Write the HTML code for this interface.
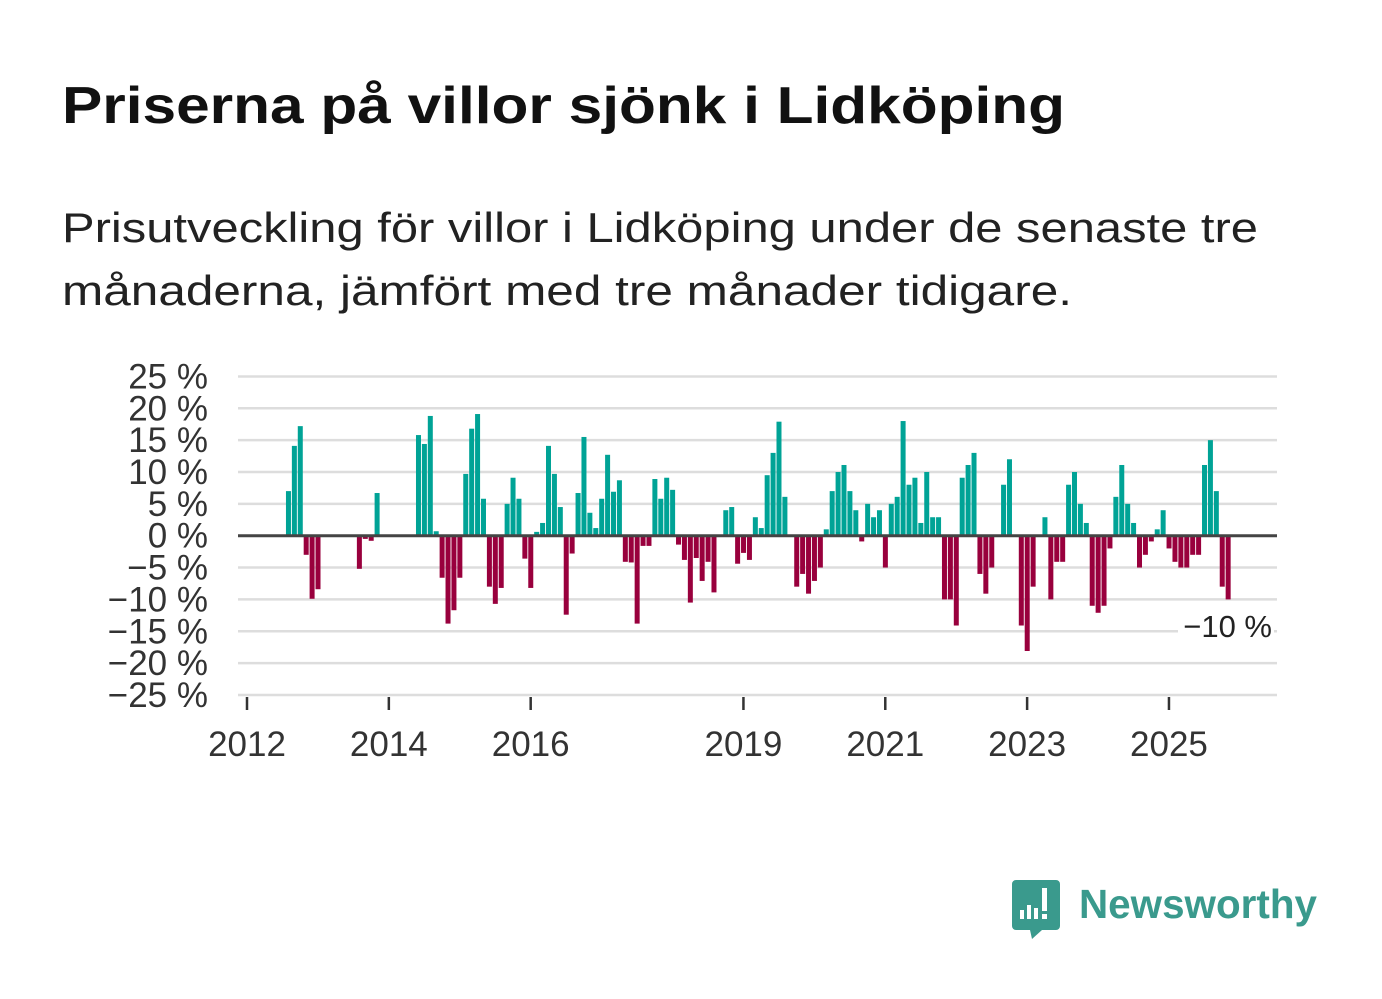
<!DOCTYPE html>
<html><head><meta charset="utf-8"><style>
html,body{margin:0;padding:0;background:#fff;}
svg{display:block;font-family:"Liberation Sans","DejaVu Sans",sans-serif;}
</style></head><body>
<svg id="chart" width="1382" height="999" viewBox="0 0 1382 999">
<text x="62" y="123" font-size="52" font-weight="bold" fill="#111" textLength="1003" lengthAdjust="spacingAndGlyphs">Priserna på villor sjönk i Lidköping</text>
<text x="62" y="242" font-size="42" fill="#222" textLength="1196" lengthAdjust="spacingAndGlyphs">Prisutveckling för villor i Lidköping under de senaste tre</text>
<text x="62" y="305" font-size="42" fill="#222" textLength="1010" lengthAdjust="spacingAndGlyphs">månaderna, jämfört med tre månader tidigare.</text>
<g id="grid"></g>
<g id="bars"></g>
<line x1="238" x2="1277" y1="535.7" y2="535.7" stroke="#444" stroke-width="3"/>
<g id="yaxis"></g>
<g id="xaxis"></g>
<rect x="1178" y="610" width="96" height="34" fill="#fff"/>
<text x="1272" y="637" font-size="31" fill="#222" text-anchor="end">−10 %</text>
<g>
<path d="M1016 880 h40 a4 4 0 0 1 4 4 v42 a4 4 0 0 1 -4 4 h-14 l-10 9 l-2 -9 h-14 a4 4 0 0 1 -4 -4 v-42 a4 4 0 0 1 4 -4z" fill="#3a9a8d"/>
<rect x="1020" y="910" width="4" height="9" fill="#fff"/><rect x="1027" y="905" width="4" height="14" fill="#fff"/><rect x="1034" y="908" width="4" height="11" fill="#fff"/><rect x="1042" y="888" width="5" height="23" fill="#fff"/><rect x="1042" y="914" width="5" height="5" fill="#fff"/>
<text x="1079" y="918" font-size="41" font-weight="bold" fill="#3a9a8d" textLength="238" lengthAdjust="spacingAndGlyphs">Newsworthy</text>
</g>
</svg>
<script>
const months = [6,7,8,9,10,11,18,19,20,21,28,29,30,31,32,33,34,35,36,37,38,39,40,41,42,43,44,45,46,47,48,49,50,51,52,53,54,55,56,57,58,59,60,61,62,63,64,65,66,67,68,69,70,71,72,73,74,75,76,77,78,80,81,82,83,84,85,86,87,88,89,90,92,93,94,95,96,97,98,99,100,101,102,103,104,105,106,107,108,109,110,111,112,113,114,115,116,117,118,119,120,121,122,123,124,125,127,128,130,131,132,134,135,136,137,138,139,140,141,142,143,144,145,146,147,148,149,150,151,152,153,154,155,156,157,158,159,160,161,162,163,164,165];
const values = [7,14.1,17.2,-3,-9.9,-8.4,-5.2,-0.5,-0.8,6.7,15.8,14.4,18.8,0.7,-6.6,-13.8,-11.7,-6.6,9.7,16.8,19.1,5.8,-8,-10.7,-8.2,5,9.1,5.8,-3.6,-8.2,0.6,2,14.1,9.7,4.5,-12.4,-2.8,6.7,15.5,3.6,1.2,5.8,12.7,6.9,8.7,-4.1,-4.2,-13.8,-1.6,-1.6,8.9,5.8,9.1,7.2,-1.4,-3.8,-10.5,-3.5,-7.1,-4.1,-8.9,4,4.5,-4.4,-2.7,-3.8,2.9,1.2,9.5,13,17.9,6.1,-8,-6,-9.1,-7.1,-5,1,7,10,11.1,7,4,-0.9,5,2.9,4,-5,5,6.1,18,8,9.1,2,10,2.9,2.9,-10,-10,-14.1,9.1,11.1,13,-6,-9.1,-5,8,12,-14.1,-18.1,-8,2.9,-10,-4.1,-4.1,8,10,5,2,-11,-12.1,-11,-2,6.1,11.1,5,2,-5,-3,-0.9,1,4,-2,-4.1,-5,-5,-3,-3,11.1,15,7,-8,-10];
const yTicks = [25,20,15,10,5,0,-5,-10,-15,-20,-25];
const xTickYears = [2012,2014,2016,2019,2021,2023,2025];
const NS="http://www.w3.org/2000/svg";
function x(m){return 247+m*5.91;}
function y(v){return 535.7-v*6.37;}
const grid=document.getElementById('grid'),bars=document.getElementById('bars'),ya=document.getElementById('yaxis'),xa=document.getElementById('xaxis');
yTicks.forEach(t=>{
  if(t!==0){const l=document.createElementNS(NS,'line');
  
  
  l.setAttribute('x1',238);l.setAttribute('x2',1277);l.setAttribute('y1',y(t));l.setAttribute('y2',y(t));
  l.setAttribute('stroke','#ddd');l.setAttribute('stroke-width','2.5');grid.appendChild(l);}
  const tx=document.createElementNS(NS,'text');
  
  
  tx.setAttribute('x',208);tx.setAttribute('y',y(t)+12);tx.setAttribute('text-anchor','end');
  tx.setAttribute('font-size','35');tx.setAttribute('fill','#333');
  tx.textContent=(t<0?'−'+(-t):t)+' %';ya.appendChild(tx);
});
months.forEach((m,i)=>{
  const v=values[i];const r=document.createElementNS(NS,'rect');
  
  
  r.setAttribute('x',x(m)+3.5);r.setAttribute('width',5);
  r.setAttribute('y',Math.min(y(v),y(0)));r.setAttribute('height',Math.abs(y(v)-y(0)));
  r.setAttribute('fill',v>=0?'#00a396':'#99003d');bars.appendChild(r);
});
xTickYears.forEach(yr=>{
  const px=x((yr-2012)*12);
  const l=document.createElementNS(NS,'line');
  
  
  l.setAttribute('x1',px);l.setAttribute('x2',px);l.setAttribute('y1',697);l.setAttribute('y2',710);
  l.setAttribute('stroke','#333');l.setAttribute('stroke-width','2.5');xa.appendChild(l);
  const tx=document.createElementNS(NS,'text');
  
  
  tx.setAttribute('x',px);tx.setAttribute('y',756);tx.setAttribute('text-anchor','middle');
  tx.setAttribute('font-size','35');tx.setAttribute('fill','#333');tx.textContent=yr;xa.appendChild(tx);
});
</script>
</body></html>
